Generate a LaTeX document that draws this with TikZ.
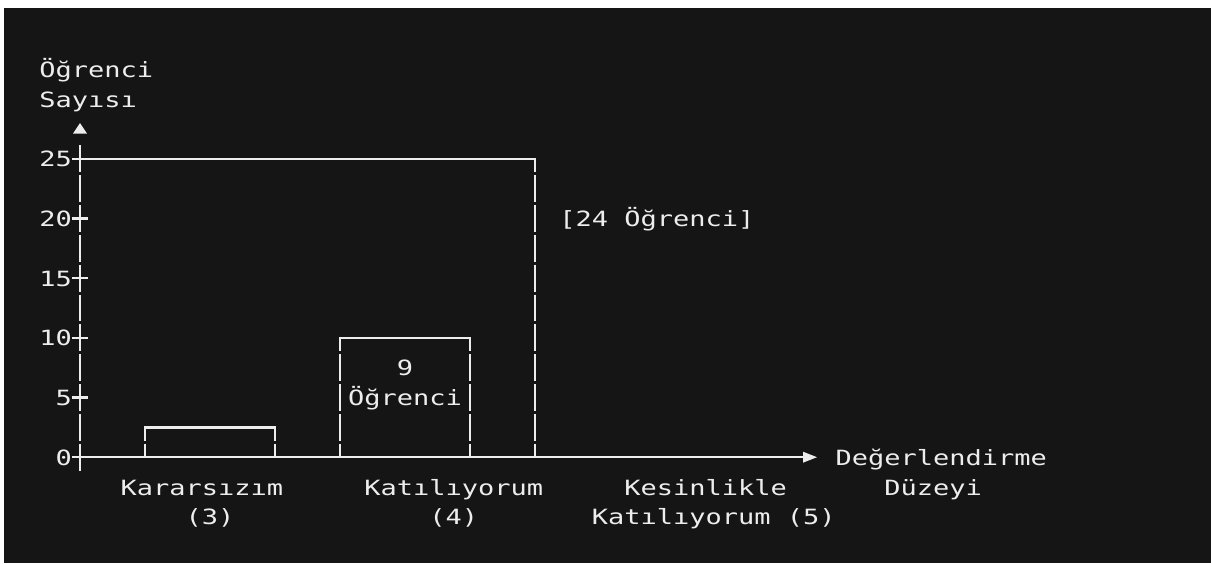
\documentclass[tikz,border=0pt]{standalone}
\usepackage{fontspec}
\newfontfamily\monof[FakeStretch=1.2853]{DejaVu Sans Mono}
\definecolor{bg}{HTML}{151515}
\definecolor{fg}{HTML}{EDEDED}
\newcommand\vfull[2]{\draw[ln] ({cc(#1)},{ry(#2)-13.4}) -- ({cc(#1)},{ry(#2)+13.4});}
\newcommand\vbot[2]{\draw[ln] ({cc(#1)},{ry(#2)-13.4}) -- ({cc(#1)},{ry(#2)});}
\begin{document}
\begin{tikzpicture}[x=1pt,y=-1pt,
  declare function={cx(\c)=39.4+16.25*(\c); cc(\c)=39.4+16.25*((\c)+0.5); ry(\r)=158.7+29.85*((\r)-3);},
  txt/.style={anchor=base west, inner sep=0pt, outer sep=0pt, text=fg, font=\monof\fontsize{21}{24}\selectfont},
  ln/.style={draw=fg, line width=2.3pt},
  tip/.style={fill=fg, draw=none}]
\useasboundingbox (0,0) rectangle (1211,563);
\fill[white] (0,0) rectangle (1211,563);
\fill[bg] (4,8) rectangle (1211,563);

% axis titles
\node[txt] (yt1) at ({cx(0)},{ry(0)+8}) {Öğrenci};
\node[txt] (yt2) at ({cx(0)},{ry(1)+8}) {Sayısı};
\node[txt] (xt1) at ({cx(49)},{ry(13)+8}) {Değerlendirme};
\node[txt] (xt2) at ({cx(52)},{ry(14)+8}) {Düzeyi};

% tick labels
\node[txt] (t25) at ({cx(0)},{ry(3)+8}) {25};
\node[txt] (t20) at ({cx(0)},{ry(5)+8}) {20};
\node[txt] (t15) at ({cx(0)},{ry(7)+8}) {15};
\node[txt] (t10) at ({cx(0)},{ry(9)+8}) {10};
\node[txt] (t5) at ({cx(1)},{ry(11)+8}) {5};
\node[txt] (t0) at ({cx(1)},{ry(13)+8}) {0};

% category labels
\node[txt] (c3a) at ({cx(5)},{ry(14)+8}) {Kararsızım};
\node[txt] (c3b) at ({cx(9)},{ry(15)+8}) {(3)};
\node[txt] (c4a) at ({cx(20)},{ry(14)+8}) {Katılıyorum};
\node[txt] (c4b) at ({cx(24)},{ry(15)+8}) {(4)};
\node[txt] (c5a) at ({cx(36)},{ry(14)+8}) {Kesinlikle};
\node[txt] (c5b) at ({cx(34)},{ry(15)+8}) {Katılıyorum (5)};

% value labels
\node[txt] (v9a) at ({cx(22)},{ry(10)+8}) {9};
\node[txt] (v9b) at ({cx(19)},{ry(11)+8}) {Öğrenci};
\node[txt] (v24) at ({cx(32)},{ry(5)+8}) {[24 Öğrenci]};

% y axis
\foreach \r in {3,...,13} {\vfull{2}{\r}}
\foreach \r in {5,7,9,11} {\draw[ln] ({cx(2)},{ry(\r)}) -- ({cx(3)},{ry(\r)});}
\fill[tip] (73,133.5) -- (87,133.5) -- (80,123) -- cycle;

% x axis
\coordinate (xs) at ({cx(2)},{ry(13)});
\coordinate (xe) at (804,{ry(13)});
\draw[ln] (xs) -- (xe);
\fill[tip] (803,{ry(13)-5.5}) -- (817,{ry(13)}) -- (803,{ry(13)+5.5}) -- cycle;

% large box (24)
\draw[ln] ({cx(2)},{ry(3)}) -- ({cc(30)},{ry(3)}) -- ({cc(30)},{ry(3)+13.4});
\foreach \r in {4,...,12} {\vfull{30}{\r}}
\vbot{30}{13}

% bar (3)
\draw[ln] ({cc(6)},{ry(12)+13.4}) -- ({cc(6)},{ry(12)}) -- ({cc(14)},{ry(12)}) -- ({cc(14)},{ry(12)+13.4});
\vbot{6}{13}
\vbot{14}{13}

% bar (4)
\draw[ln] ({cc(18)},{ry(9)+13.4}) -- ({cc(18)},{ry(9)}) -- ({cc(26)},{ry(9)}) -- ({cc(26)},{ry(9)+13.4});
\foreach \r in {10,11,12} {\vfull{18}{\r}\vfull{26}{\r}}
\vbot{18}{13}
\vbot{26}{13}
\end{tikzpicture}
\end{document}
